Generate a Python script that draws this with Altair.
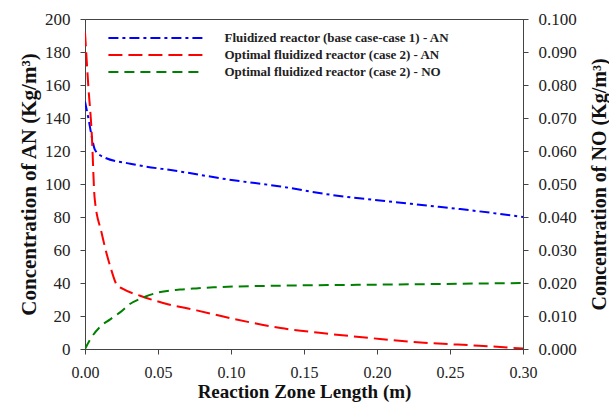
import altair as alt
import pandas as pd

# Case 1 (base case) AN concentration
x_case1 = [0.0, 0.0023, 0.0046, 0.0068, 0.0125, 0.031, 0.065, 0.099, 0.134, 0.168, 0.202, 0.236, 0.257, 0.30]
an_case1 = [150, 140, 128.8, 120.8, 116.4, 112.3, 107.6, 102.6, 98.5, 93.5, 90.0, 86.8, 84.8, 80.0]

# Case 2 (optimal) AN concentration
x_case2 = [0.0, 0.0023, 0.0046, 0.0066, 0.0114, 0.018, 0.0217, 0.026, 0.0377, 0.0535, 0.0765, 0.099, 0.134, 0.168, 0.202, 0.236, 0.27, 0.30]
an_case2 = [192, 159, 131, 91.5, 70.3, 48, 39, 36.4, 32.3, 27.9, 23.4, 18.8, 12.7, 9.1, 6.1, 3.6, 2.0, 0.3]

# Case 2 (optimal) NO concentration
x_no = [0.0, 0.0034, 0.0103, 0.017, 0.024, 0.031, 0.0377, 0.049, 0.065, 0.074, 0.088, 0.134, 0.202, 0.30]
no_case2 = [0.0, 0.0028, 0.0067, 0.0089, 0.0111, 0.0137, 0.0152, 0.017, 0.018, 0.0183, 0.0187, 0.0192, 0.0195, 0.020]

series_names = [
    "Fluidized reactor (base case-case 1) - AN",
    "Optimal fluidized reactor (case 2) - AN",
    "Optimal fluidized reactor (case 2) - NO",
]
series_colors = ["#0000ff", "#ff0000", "#008000"]
series_dashes = [[10, 4, 3, 4], [14, 6], [10, 6]]

an_df = pd.concat([
    pd.DataFrame({"x": x_case1, "v": an_case1, "series": series_names[0], "o": range(len(x_case1))}),
    pd.DataFrame({"x": x_case2, "v": an_case2, "series": series_names[1], "o": range(len(x_case2))}),
])
no_df = pd.DataFrame({"x": x_no, "v": no_case2, "series": series_names[2], "o": range(len(x_no))})

FONT = "Liberation Serif"


def make_legend():
    return alt.Legend(
        title=None, orient="none", legendX=61.5, legendY=9.5, padding=0,
        symbolType="M -5.6 0 L 5.6 0", symbolSize=289, symbolStrokeWidth=2,
        labelFont=FONT, labelFontSize=13, labelFontWeight="bold", labelColor="#222",
        rowPadding=0, labelOffset=59, labelLimit=400,
    )


color = alt.Color("series:N", scale=alt.Scale(domain=series_names, range=series_colors), legend=make_legend())
dash = alt.StrokeDash("series:N", scale=alt.Scale(domain=series_names, range=series_dashes), legend=make_legend())

xenc = alt.X(
    "x:Q",
    scale=alt.Scale(domain=[0, 0.3], nice=False),
    axis=alt.Axis(
        title="Reaction Zone Length (m)", values=[0, 0.05, 0.1, 0.15, 0.2, 0.25, 0.3],
        format=".2f", titleFontSize=19, titlePadding=2, labelPadding=10, labelFlush=False,
        labelFontSize=16,
    ),
)

left = alt.Chart(an_df).mark_line(strokeWidth=2, interpolate="monotone", clip=True).encode(
    x=xenc,
    y=alt.Y(
        "v:Q",
        scale=alt.Scale(domain=[0, 200], nice=False),
        axis=alt.Axis(
            title="Concentration of AN (Kg/m³)", values=list(range(0, 201, 20)),
            orient="left", titleFontSize=21, labelPadding=10, labelFlush=False,
            titleAngle=270, titleX=-56, titleY=165, titleAlign="center", titleBaseline="middle",
        ),
    ),
    color=color,
    strokeDash=dash,
    order="o:Q",
)

right = alt.Chart(no_df).mark_line(strokeWidth=2, interpolate="monotone", clip=True).encode(
    x=xenc,
    y=alt.Y(
        "v:Q",
        scale=alt.Scale(domain=[0, 0.1], nice=False),
        axis=alt.Axis(
            title="Concentration of NO (Kg/m³)", values=[i / 100 for i in range(0, 11)],
            format=".3f", orient="right", titleFontSize=20, labelPadding=10, labelFlush=False,
            titleAngle=270, titleX=76, titleY=165, titleAlign="center", titleBaseline="middle",
        ),
    ),
    color=color,
    strokeDash=dash,
    order="o:Q",
)

chart = (
    alt.layer(left, right)
    .resolve_scale(y="independent")
    .properties(
        width=438, height=330,
        autosize=alt.AutoSizeParams(type="none"),
        padding={"left": 85, "top": 19, "right": 86, "bottom": 53},
        background="white",
    )
    .configure(font=FONT)
    .configure_axis(
        labelFont=FONT, titleFont=FONT, labelFontSize=17, labelColor="#222",
        titleFontWeight="bold", titleColor="#111",
        domainColor="#444", tickColor="#444", tickSize=5, grid=False,
    )
    .configure_legend(labelFont=FONT)
    .configure_view(stroke="#444", strokeWidth=1)
)

chart.save("out.html", embed_options={"renderer": "svg", "actions": False})
